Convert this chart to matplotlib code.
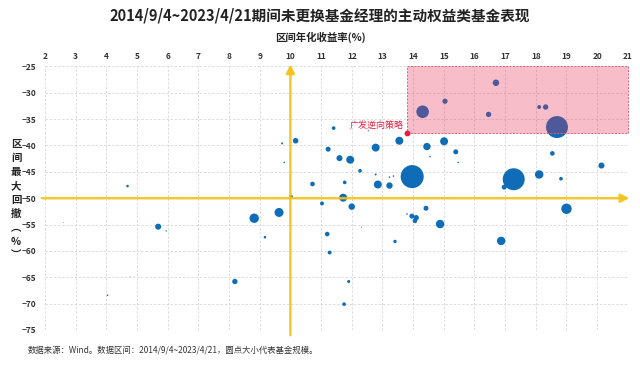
import matplotlib
matplotlib.use("Agg")
import matplotlib.pyplot as plt
from matplotlib.patches import Rectangle

plt.rcParams['font.family'] = ['Noto Sans CJK SC', 'DejaVu Sans']

# annualized return (%), max drawdown (%), fund scale (marker area)
ann_return = [9.73, 10.17, 9.80, 10.72, 11.23, 4.69, 10.02, 16.70, 15.04, 14.31,
              16.46, 18.11, 18.32, 18.69, 11.41, 12.54, 13.55, 15.01, 12.78, 14.45,
              15.39, 11.60, 11.95, 14.55, 18.54, 15.47, 20.14, 12.27, 12.78, 13.23,
              13.36, 13.97, 17.28, 16.97, 18.11, 18.82, 11.77, 12.85, 13.23, 11.72,
              11.03, 12.00, 14.42, 13.96, 14.10, 14.06, 13.80, 14.88, 19.00, 11.20,
              11.28, 13.41, 16.87, 11.90, 11.75, 12.32, 5.69, 5.95, 8.82, 9.63,
              9.17, 8.19, 4.04, 4.77, 2.60]
max_drawdown = [-39.6, -39.1, -43.2, -47.3, -40.7, -47.7, -49.7, -28.1, -31.6, -33.6,
                -34.1, -32.7, -32.7, -36.5, -36.7, -37.2, -39.1, -39.2, -40.4, -40.2,
                -41.2, -42.4, -42.7, -42.1, -41.5, -43.2, -43.8, -44.8, -45.5, -46.0,
                -45.8, -45.9, -46.4, -47.9, -45.5, -46.3, -47.0, -47.4, -47.6, -49.9,
                -51.0, -51.6, -51.9, -53.4, -53.7, -54.3, -53.0, -54.9, -52.0, -56.8,
                -60.3, -58.2, -58.1, -65.8, -70.1, -55.5, -55.4, -56.2, -53.8, -52.7,
                -57.4, -65.8, -68.4, -64.9, -54.6]
fund_scale = [2, 16, 1.3, 11, 13, 3.5, 7, 22, 14, 82,
              15, 8, 15, 250, 7, 0.8, 33, 33, 33, 28,
              13, 19, 33, 1.3, 11, 1.3, 19, 7, 2, 1.3,
              1.3, 275, 250, 13, 37, 7, 7, 33, 21, 33,
              8, 22, 13, 13, 15, 11, 1.3, 37, 56, 11,
              8, 6, 37, 5, 7, 0.5, 19, 1, 46, 42,
              3.5, 15, 1.3, 0.3, 0.3]

focus_name = "广发逆向策略"
focus_x, focus_y = 13.8, -37.6

xticks = list(range(2, 22))
yticks = list(range(-25, -80, -5))

blue = "#0f6db8"
gold = "#f5c21b"

fig = plt.figure(figsize=(6.4, 3.65), dpi=100)
ax = fig.add_axes([0.0703, 0.0959, 0.9107, 0.7221])
ax.set_xlim(2, 21)
ax.set_ylim(-75, -25)

ax.scatter(ann_return, max_drawdown, s=fund_scale, color=blue, linewidths=0, zorder=3)

# highlight region
ax.add_patch(Rectangle((focus_x, focus_y), 21 - focus_x, -25 - focus_y,
                       facecolor=(0.9, 0.16, 0.31, 0.3), edgecolor="#e0607a",
                       linestyle=(0, (2, 1.5)), linewidth=0.7, zorder=4, clip_on=False))

ax.scatter([focus_x], [focus_y], s=10, color="#e8193c", zorder=6, clip_on=False)
ax.text(focus_x - 0.12, focus_y + 1.4, focus_name, color="#e8203f", fontsize=6.5,
        ha="right", va="center", zorder=6)

# axis-crossing arrows
ax.annotate("", xy=(10, -24.6), xytext=(10, -76), zorder=5, annotation_clip=False,
            arrowprops=dict(arrowstyle="-|>,head_length=0.5,head_width=0.25",
                            color=gold, lw=1.8, alpha=0.9, shrinkA=0, shrinkB=0))
ax.annotate("", xy=(21.05, -50), xytext=(1.9, -50), zorder=5, annotation_clip=False,
            arrowprops=dict(arrowstyle="-|>,head_length=0.5,head_width=0.25",
                            color=gold, lw=1.8, alpha=0.9, shrinkA=0, shrinkB=0))

ax.set_xticks(xticks)
ax.set_yticks(yticks)
ax.xaxis.tick_top()
ax.tick_params(length=0, labelsize=6, colors="#333333")
ax.tick_params(axis="x", pad=4)
ax.tick_params(axis="y", pad=6)
for lbl in ax.get_xticklabels() + ax.get_yticklabels():
    lbl.set_fontweight("bold")
ax.grid(True, color="#d8d8d8", linestyle=(0, (3, 2)), linewidth=0.6, zorder=0)
for sp in ax.spines.values():
    sp.set_visible(False)

fig.text(0.5, 0.957, "2014/9/4~2023/4/21期间未更换基金经理的主动权益类基金表现",
         ha="center", va="center", fontsize=10.5, fontweight="bold", color="#222222")
fig.text(0.5, 0.897, "区间年化收益率(%)", ha="center", va="center",
         fontsize=7.5, fontweight="bold", color="#222222")
fig.text(0.025, 0.452, "\n".join(list("区间最大回撤") + ["︵", "%", "︶"]),
         ha="center", va="center", fontsize=7.5, fontweight="bold",
         color="#222222", linespacing=1.5)
fig.text(0.044, 0.04, "数据来源：Wind。数据区间：2014/9/4~2023/4/21，圆点大小代表基金规模。",
         ha="left", va="center", fontsize=6, color="#333333")

fig.savefig("out.png", dpi=100)
